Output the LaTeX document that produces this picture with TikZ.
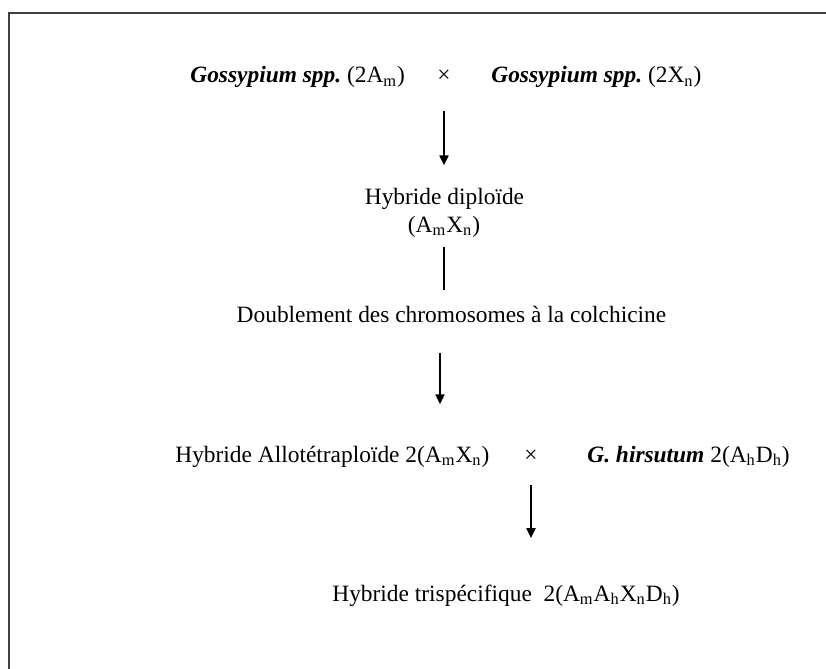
\documentclass[tikz,border=0pt]{standalone}
\usepackage{fontspec}
\setmainfont{Liberation Serif}
\usetikzlibrary{arrows.meta}
\frenchspacing

\tikzstyle{txt} = [inner sep=0pt, font=\fontsize{11.7}{14}\selectfont]
\tikzstyle{flow} = [line width=1pt, -{Triangle[length=5pt, width=4.5pt]}]

\begin{document}
\begin{tikzpicture}[x=0.5pt, y=-0.5pt]
\useasboundingbox (0,0) rectangle (826,669);
\clip (0,0) rectangle (826,669);
\draw[line width=1pt, black!75] (8.5,700) -- (8.5,12.5) -- (900,12.5);

% parents
\node[txt, anchor=base west] (gossA) at (190,83) {\textbf{\textit{Gossypium spp.}} (2A\textsubscript{m})};
\node[txt, anchor=base] (crossA) at (444,83) {×};
\node[txt, anchor=base west] (gossX) at (491,83) {\textbf{\textit{Gossypium spp.}} (2X\textsubscript{n})};

% diploid hybrid
\node[txt, anchor=base] (hybDiplo) at (444.5,204) {Hybride diploïde};
\node[txt, anchor=base] (hybDiploGen) at (444,232) {(A\textsubscript{m}X\textsubscript{n})};

\node[txt, anchor=base] (doubl) at (451.5,322) {Doublement des chromosomes à la colchicine};

% second cross
\node[txt, anchor=base west] (allo) at (175,462) {Hybride Allotétraploïde 2(A\textsubscript{m}X\textsubscript{n})};
\node[txt, anchor=base] (crossB) at (531,462) {×};
\node[txt, anchor=base west] (hirsutum) at (587,462) {\textbf{\textit{G. hirsutum}} 2(A\textsubscript{h}D\textsubscript{h})};

\node[txt, anchor=base west] (tri) at (332,601) {Hybride trispécifique\ \ 2(A\textsubscript{m}A\textsubscript{h}X\textsubscript{n}D\textsubscript{h})};

\draw[flow, shorten <=14pt, shorten >=11pt] (crossA.south) -- (crossA.south |- hybDiplo.north);
\draw[line width=1pt, shorten <=5pt, shorten >=7.5pt] (hybDiploGen.south) -- (hybDiploGen.south |- doubl.north);
\draw[flow, shorten <=15pt, shorten >=20.5pt] ([xshift=-2]hybDiploGen.south |- doubl.south) -- ([xshift=-2]hybDiploGen.south |- allo.north);
\draw[flow, shorten <=11.5pt, shorten >=23pt] (crossB.south) -- (crossB.south |- tri.north);
\end{tikzpicture}
\end{document}
